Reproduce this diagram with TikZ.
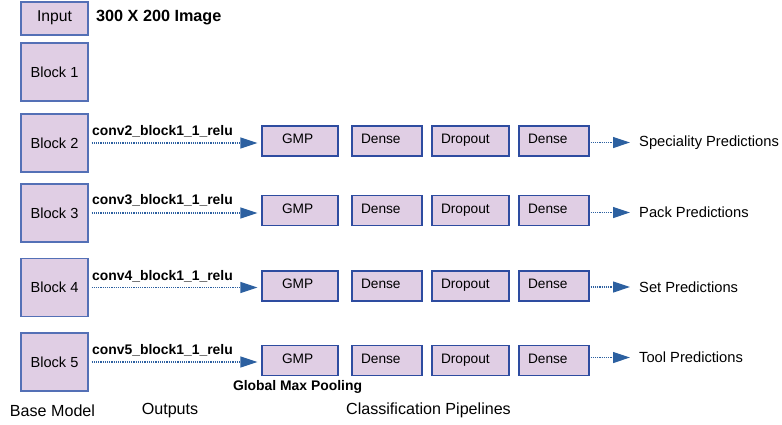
\documentclass[tikz,border=0pt]{standalone}
\usepackage{fontspec}
\setmainfont{Liberation Sans}
\usetikzlibrary{arrows.meta}

\definecolor{boxfill}{RGB}{224,206,228}
\definecolor{blockline}{RGB}{84,112,182}
\definecolor{pipeline}{RGB}{46,76,160}
\definecolor{flow}{RGB}{44,96,160}

\begin{document}
\begin{tikzpicture}[x=1pt,y=-1pt,
  blockbox/.style={draw=blockline,fill=boxfill,line width=1.2pt,minimum width=67pt,
    inner sep=0pt,font=\fontsize{14.6}{16}\selectfont},
  pipebox/.style={draw=pipeline,fill=boxfill,line width=1.2pt,minimum height=30pt,
    inner ysep=0pt,align=left,text height=10pt,text depth=5pt,font=\fontsize{13.7}{15}\selectfont},
  gmpbox/.style={pipebox,inner xsep=20pt,text width=36pt},
  densebox/.style={pipebox,inner xsep=9pt,text width=52pt},
  dropbox/.style={pipebox,inner xsep=9pt,text width=59pt},
  outlabel/.style={anchor=west,inner sep=0pt,font=\bfseries\fontsize{13.9}{15}\selectfont},
  predlabel/.style={anchor=west,inner sep=0pt,font=\fontsize{14.7}{16}\selectfont},
  caption/.style={inner sep=0pt,font=\fontsize{16.1}{18}\selectfont},
  flowline/.style={draw=flow,line width=1.2pt,dash pattern=on 1.2pt off 1pt,
    -{Triangle[length=17pt,width=11pt,fill=flow]}},
]
\useasboundingbox (0,0) rectangle (782,424);

% base model column
\node[blockbox,minimum height=33pt,text height=11pt,text depth=6pt,font=\fontsize{15.7}{17}\selectfont] (input) at (54.5,18.5) {Input};
\node[anchor=west,inner sep=0pt,font=\bfseries\fontsize{16.2}{18}\selectfont] (imgsize) at (96,18) {300 X 200 Image};
\node[blockbox,minimum height=58pt] (b1) at (54.5,72) {Block 1};
\node[blockbox,minimum height=58pt] (b2) at (54.5,143) {Block 2};
\node[blockbox,minimum height=58pt] (b3) at (54.5,213) {Block 3};
\node[blockbox,minimum height=58pt] (b4) at (54.5,287.5) {Block 4};
\node[blockbox,minimum height=58pt] (b5) at (54.5,362) {Block 5};

% classification pipelines: row, box centre, output name, prediction, arrow offset
\foreach \r/\y/\conv/\pred/\dy in {2/141/conv2/Speciality Predictions/1.5,
                                   3/210.5/conv3/Pack Predictions/2,
                                   4/286/conv4/Set Predictions/1,
                                   5/360.5/conv5/Tool Predictions/-3}{
  \node[gmpbox] (gmp\r) at (300,\y) {GMP};
  \node[densebox] (densea\r) at (387,\y) {Dense};
  \node[dropbox] (drop\r) at (470.5,\y) {Dropout};
  \node[densebox] (denseb\r) at (554,\y) {Dense};
  \node[predlabel] (pred\r) at (639,\y+\dy) {\pred};
  \node[outlabel] (out\r) at (92,\y-10) {\conv\_block1\_1\_relu};
  \draw[flowline,shorten <=3pt,shorten >=4pt] (b\r.east) -- (b\r.east -| gmp\r.west);
  \draw[flowline,shorten <=1pt,shorten >=9pt] (denseb\r.east) ++(0,\dy) coordinate (s\r) -- (s\r -| pred\r.west);
}

\node[inner sep=0pt,font=\bfseries\fontsize{13.9}{15}\selectfont] (gmpname) at (297.5,387) {Global Max Pooling};

% column captions
\node[caption] (cbase) at (52.5,411) {Base Model};
\node[caption] (cout) at (170,411) {Outputs};
\node[caption] (cpipe) at (428.5,410.5) {Classification Pipelines};
\end{tikzpicture}
\end{document}
